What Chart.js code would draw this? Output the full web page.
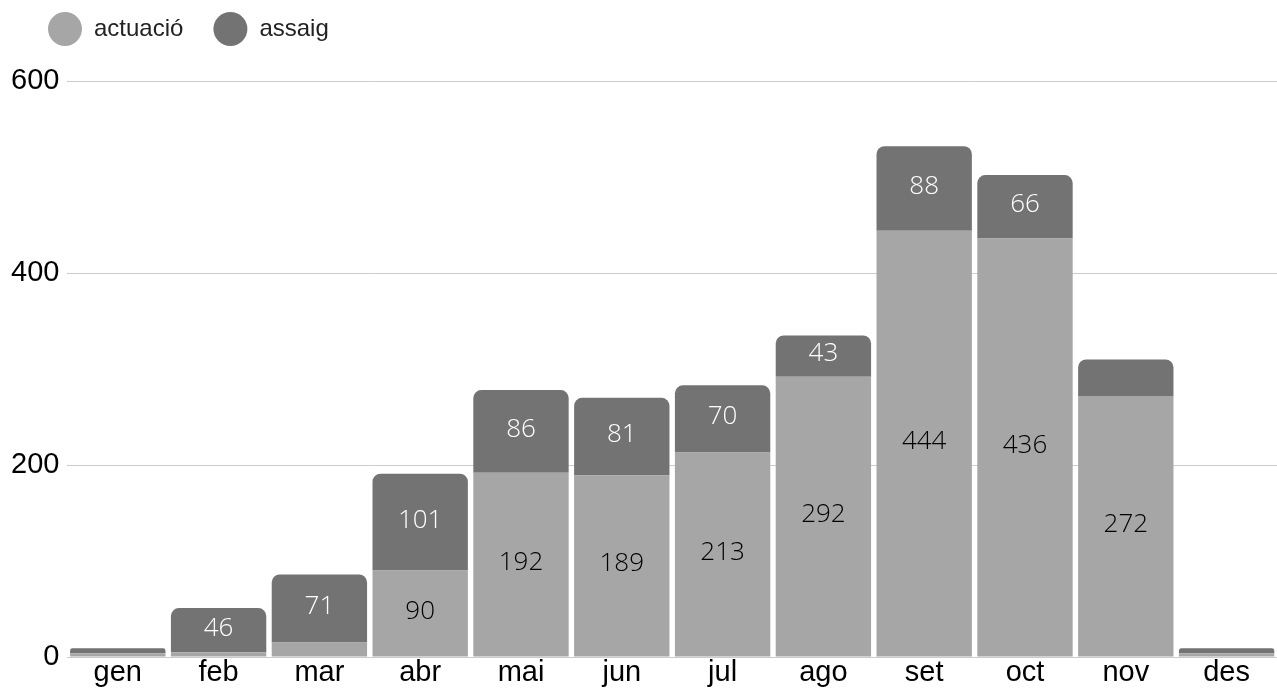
<!DOCTYPE html>
<html>
<head>
<meta charset="utf-8">
<script src="https://cdn.jsdelivr.net/npm/chart.js@4.4.0/dist/chart.umd.min.js"></script>
<style>
html, body { margin: 0; padding: 0; background: #fff; }
#wrap { width: 1277px; height: 689px; }
</style>
</head>
<body>
<div id="wrap"><canvas id="chart"></canvas></div>
<script>
const mesos = ['gen', 'feb', 'mar', 'abr', 'mai', 'jun', 'jul', 'ago', 'set', 'oct', 'nov', 'des'];
const actuacio = [4, 5, 15, 90, 192, 189, 213, 292, 444, 436, 272, 4];
const assaig = [5, 46, 71, 101, 86, 81, 70, 43, 88, 66, 38, 5];
const yTicks = [0, 200, 400, 600];

// Espai sota la llegenda i posicio dels elements
const legendPos = {
    id: 'legendPos',
    beforeInit(chart) {
        const fit = chart.legend.fit;
        chart.legend.fit = function () {
            fit.call(this);
            this.height += 17;
        };
    },
    afterLayout(chart) {
        chart.legend.left = 18;
        chart.legend.top = -13;
    }
};

// Valors dins de cada segment
const etiquetes = {
    id: 'etiquetes',
    afterDatasetsDraw(chart) {
        const ctx = chart.ctx;
        ctx.save();
        ctx.font = '300 26px "Open Sans"';
        ctx.textAlign = 'center';
        ctx.textBaseline = 'middle';
        chart.data.datasets.forEach((ds, i) => {
            chart.getDatasetMeta(i).data.forEach((bar, j) => {
                const v = ds.data[j];
                if (v < 40) return; // segments massa petits sense etiqueta
                const { x, y, base } = bar.getProps(['x', 'y', 'base'], true);
                ctx.fillStyle = ds.labelColor;
                ctx.fillText(String(v), x, (y + base) / 2 - 2);
            });
        });
        ctx.restore();
    }
};

Chart.defaults.font.family = '"Liberation Sans", Arial, sans-serif';

new Chart(document.getElementById('chart').getContext('2d'), {
    type: 'bar',
    data: {
        labels: mesos,
        datasets: [{
            label: 'actuació',
            data: actuacio,
            backgroundColor: '#a6a6a6',
            labelColor: '#000',
            borderWidth: 0,
            borderRadius: 0
        }, {
            label: 'assaig',
            data: assaig,
            backgroundColor: '#737373',
            labelColor: '#fff',
            borderWidth: 0,
            borderRadius: 8
        }]
    },
    options: {
        responsive: true,
        maintainAspectRatio: false,
        animation: false,
        layout: { padding: { left: 3, right: 0, top: 0, bottom: 0 } },
        datasets: {
            bar: { categoryPercentage: 1, barPercentage: 0.946 }
        },
        plugins: {
            legend: {
                position: 'top',
                align: 'start',
                labels: {
                    usePointStyle: true,
                    pointStyle: 'circle',
                    pointStyleWidth: 34,
                    padding: 30,
                    color: '#222',
                    font: { size: 24 }
                }
            },
            tooltip: { enabled: false }
        },
        scales: {
            x: {
                stacked: true,
                grid: { display: false },
                border: { display: false },
                afterFit: axis => { axis.height = 32; },
                ticks: {
                    color: '#000',
                    padding: -7,
                    font: { size: 29, lineHeight: 1 }
                }
            },
            y: {
                stacked: true,
                min: 0,
                max: 600,
                afterBuildTicks: axis => {
                    axis.ticks = yTicks.map(v => ({ value: v }));
                },
                grid: { color: '#cccccc', drawTicks: false },
                border: { display: false },
                ticks: {
                    color: '#000',
                    padding: 8,
                    font: { size: 29, lineHeight: 1 }
                }
            }
        }
    },
    plugins: [legendPos, etiquetes]
});
</script>
</body>
</html>
